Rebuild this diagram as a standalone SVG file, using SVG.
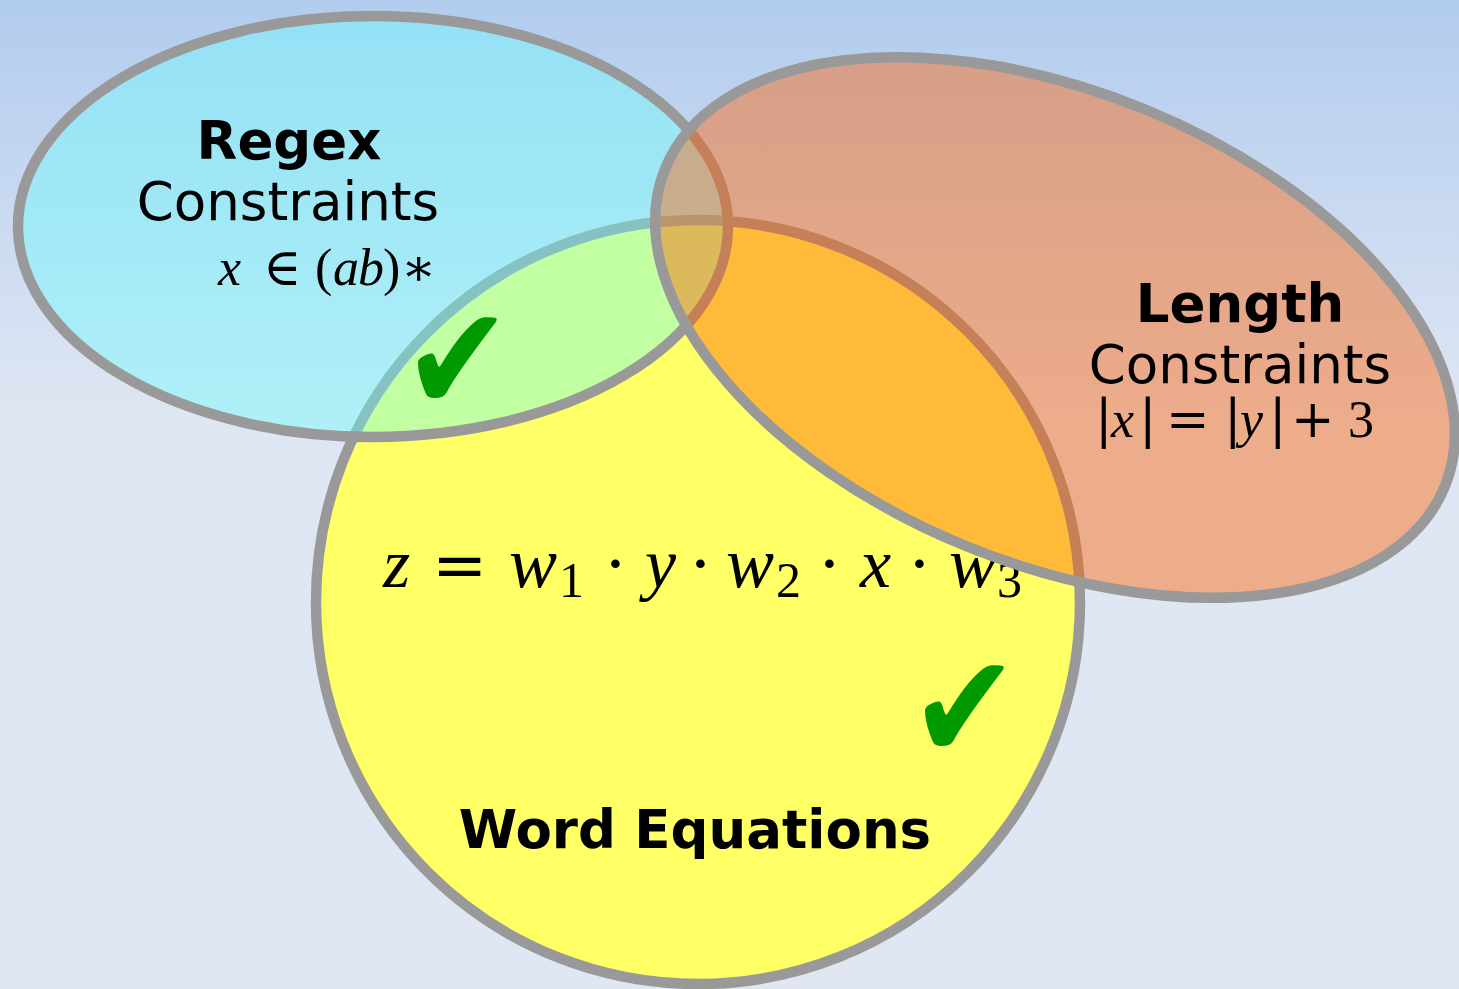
<svg xmlns="http://www.w3.org/2000/svg" width="1459" height="989" viewBox="0 0 1459 989">
<defs>
<linearGradient id="bg" x1="0" y1="0" x2="0" y2="989" gradientUnits="userSpaceOnUse">
<stop offset="0" stop-color="#b2ccee"/>
<stop offset="0.42" stop-color="#dfe6f3"/>
<stop offset="1" stop-color="#e0e7f3"/>
</linearGradient>
</defs>
<style>
.shape{stroke:#999999;stroke-width:10.5}
.yellow{fill:#ffff66}
.cyan{fill:#67ffff;fill-opacity:0.4}
.orange{fill:#ff5f00;fill-opacity:0.43}
.label{font-family:"DejaVu Sans","Noto Sans",sans-serif;font-size:53px;fill:#000;text-anchor:middle}
.bold{font-weight:bold}
.math{font-family:"Liberation Serif","DejaVu Serif",serif;fill:#000}
.it{font-style:italic}
.op{font-family:"DejaVu Serif",serif;font-style:normal}
.check{font-family:"DejaVu Sans",sans-serif;fill:#009900;font-size:110px}
</style>
<rect x="0" y="0" width="1459" height="989" fill="url(#bg)"/>
<g id="node-word">
<circle class="shape yellow" cx="698" cy="602" r="382"/>
<text class="math" y="587" font-size="70"><tspan class="it" x="383">z</tspan><tspan class="op" x="432" font-size="66">=</tspan><tspan class="it" x="509" font-size="72">w</tspan><tspan x="559" y="597" font-size="50">1</tspan><tspan class="op" x="605" y="587" font-size="66">·</tspan><tspan class="it" x="645">y</tspan><tspan class="op" x="690" font-size="66">·</tspan><tspan class="it" x="726" font-size="72">w</tspan><tspan x="776" y="597" font-size="50">2</tspan><tspan class="op" x="819" y="587" font-size="66">·</tspan><tspan class="it" x="860">x</tspan><tspan class="op" x="909" font-size="66">·</tspan><tspan class="it" x="949" font-size="72">w</tspan><tspan x="997" y="597" font-size="50">3</tspan></text>
<text class="label bold" x="695" y="848">Word Equations</text>
</g>
<g id="node-regex">
<ellipse class="shape cyan" cx="373" cy="226.5" rx="355" ry="210.5"/>
<text class="label bold" x="289" y="159">Regex</text>
<text class="label" x="288" y="220">Constraints</text>
<text class="math" y="285" font-size="52"><tspan class="it" x="218">x</tspan><tspan class="op" x="263">∈</tspan><tspan x="315">(</tspan><tspan class="it" x="333">a</tspan><tspan class="it" x="358">b</tspan><tspan x="383">)</tspan><tspan class="op" x="401">∗</tspan></text>
</g>
<g id="marks">
<text class="check" transform="translate(403 411) scale(1.18 1.35)" x="0" y="0">✔</text>
<text class="check" transform="translate(910 759) scale(1.18 1.35)" x="0" y="0">✔</text>
</g>
<g id="node-length">
<ellipse class="shape orange" cx="1055" cy="327.5" rx="421" ry="236" transform="rotate(22.2 1055 327.5)"/>
<text class="label bold" x="1240" y="322">Length</text>
<text class="label" x="1240" y="383">Constraints</text>
<text class="math" y="437" font-size="52"><tspan class="op" x="1095">|</tspan><tspan class="it" x="1111">x</tspan><tspan class="op" x="1139">|</tspan><tspan class="op" x="1166">=</tspan><tspan class="op" x="1224">|</tspan><tspan class="it" x="1240">y</tspan><tspan class="op" x="1269">|</tspan><tspan class="op" x="1291">+</tspan><tspan x="1348">3</tspan></text>
</g>
</svg>
